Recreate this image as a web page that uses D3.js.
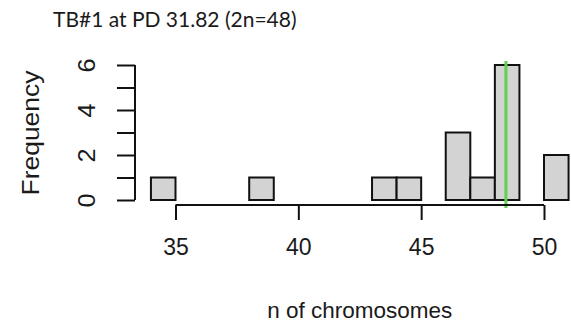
<!DOCTYPE html>
<html>
<head>
<meta charset="utf-8">
<script src="https://cdn.jsdelivr.net/npm/d3@7"></script>
<style>
  html, body { margin: 0; padding: 0; background: #ffffff; }
  svg { display: block; }
  text { fill: #1a1a1a; }
</style>
</head>
<body>
<svg id="chart" width="571" height="334"></svg>
<script>
// Histogram bins of chromosome counts (bin start, bin end, frequency)
const binStarts = [34, 35, 36, 37, 38, 39, 40, 41, 42, 43, 44, 45, 46, 47, 48, 49, 50];
const binEnds   = [35, 36, 37, 38, 39, 40, 41, 42, 43, 44, 45, 46, 47, 48, 49, 50, 51];
const counts    = [ 1,  0,  0,  0,  1,  0,  0,  0,  0,  1,  1,  0,  3,  1,  6,  0,  2];
const xTicks = [35, 40, 45, 50];
const yTicks = [0, 1, 2, 3, 4, 5, 6];
const yTickLabels = ["0", "", "2", "", "4", "", "6"];
const markerValue = 48.45;
const titleText = "TB#1 at PD 31.82 (2n=48)";
const xLabel = "n of chromosomes";
const yLabel = "Frequency";

const svg = d3.select("#chart");
const x = d3.scaleLinear().domain([35, 50]).range([175.5, 544]);
const y = d3.scaleLinear().domain([0, 6]).range([200, 65]);

const bins = binStarts.map((s, i) => ({ x0: s, x1: binEnds[i], n: counts[i] }));

// Bars (zero-height bins still draw an outline along the baseline)
svg.append("g").selectAll("rect")
  .data(bins)
  .join("rect")
  .attr("x", d => x(d.x0))
  .attr("y", d => y(d.n))
  .attr("width", d => x(d.x1) - x(d.x0))
  .attr("height", d => y(0) - y(d.n))
  .attr("fill", "#d3d3d3")
  .attr("stroke", "#111")
  .attr("stroke-width", 2);

// Vertical reference line
svg.append("line")
  .attr("x1", x(markerValue)).attr("x2", x(markerValue))
  .attr("y1", 61).attr("y2", 208)
  .attr("stroke", "#61d04f")
  .attr("stroke-width", 3);

// X axis
const xAxis = d3.axisBottom(x).tickValues(xTicks).tickSize(15).tickPadding(19).tickFormat(d3.format("d"));
const gx = svg.append("g").attr("transform", "translate(0,205)").call(xAxis);
gx.select(".domain").attr("d", `M${x(35)},0H${x(50)}`).attr("stroke", "#111").attr("stroke-width", 2);
gx.selectAll(".tick line").attr("stroke", "#111").attr("stroke-width", 2);
gx.selectAll(".tick text")
  .attr("font-family", "Liberation Sans, Arial, sans-serif")
  .attr("font-size", 23)
  .attr("fill", "#1a1a1a");

// Y axis
const yAxis = d3.axisLeft(y).tickValues(yTicks).tickSize(18).tickFormat((d, i) => yTickLabels[i]);
const gy = svg.append("g").attr("transform", "translate(135,0)").call(yAxis);
gy.select(".domain").attr("d", `M0,${y(0)}V${y(6)}`).attr("stroke", "#111").attr("stroke-width", 2);
gy.selectAll(".tick line").attr("stroke", "#111").attr("stroke-width", 2);
gy.selectAll(".tick text")
  .attr("x", null).attr("dy", null)
  .attr("text-anchor", "middle")
  .attr("font-family", "Liberation Sans, Arial, sans-serif")
  .attr("font-size", 23)
  .attr("fill", "#1a1a1a")
  .attr("transform", "translate(-40,0) scale(1,1.1) rotate(-90)");

// Axis titles
svg.append("text")
  .attr("transform", `translate(${(x(35) + x(50)) / 2},318)`)
  .attr("text-anchor", "middle")
  .attr("font-family", "Liberation Sans, Arial, sans-serif")
  .attr("font-size", 22.5)
  .text(xLabel);

svg.append("text")
  .attr("transform", "translate(39,133) scale(1,1.15) rotate(-90)")
  .attr("text-anchor", "middle")
  .attr("font-family", "Liberation Sans, Arial, sans-serif")
  .attr("font-size", 23)
  .text(yLabel);

// Title
svg.append("text")
  .attr("x", 53).attr("y", 27)
  .attr("font-family", "Lato, 'Open Sans', sans-serif")
  .attr("font-size", 21)
  .attr("fill", "#000")
  .text(titleText);
</script>
</body>
</html>
